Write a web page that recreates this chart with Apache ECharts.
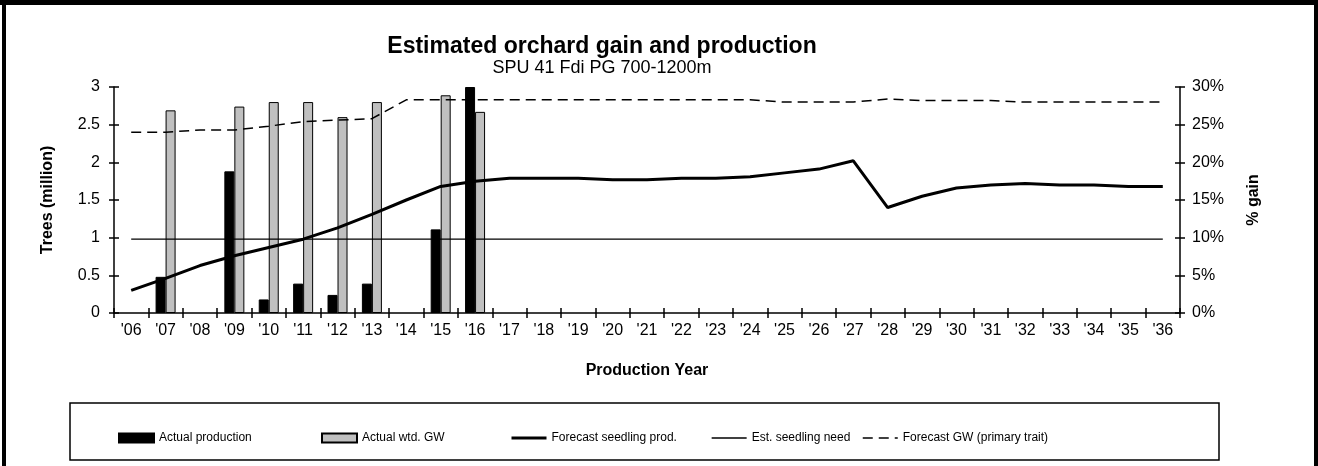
<!DOCTYPE html>
<html>
<head>
<meta charset="utf-8">
<script src="https://cdn.jsdelivr.net/npm/echarts@6/dist/echarts.min.js"></script>
<style>
  html, body { margin: 0; padding: 0; background: #fff; }
  #main { width: 1318px; height: 466px; }
</style>
</head>
<body>
<div id="main"></div>
<script>
// production years '06 .. '36
var years = ["'06","'07","'08","'09","'10","'11","'12","'13","'14","'15","'16",
             "'17","'18","'19","'20","'21","'22","'23","'24","'25","'26",
             "'27","'28","'29","'30","'31","'32","'33","'34","'35","'36"];

// trees (million)
var actualProduction = [null,0.48,null,1.88,0.18,0.39,0.24,0.39,null,1.11,3.0,
                        null,null,null,null,null,null,null,null,null,null,
                        null,null,null,null,null,null,null,null,null,null];
var forecastProd = [0.30,0.46,0.63,0.76,0.87,0.98,1.13,1.31,1.50,1.68,1.75,
                    1.79,1.79,1.79,1.77,1.77,1.79,1.79,1.81,1.86,1.91,
                    2.02,1.40,1.55,1.66,1.70,1.72,1.70,1.70,1.68,1.68];
var seedlingNeed = [0.98,0.98,0.98,0.98,0.98,0.98,0.98,0.98,0.98,0.98,0.98,
                    0.98,0.98,0.98,0.98,0.98,0.98,0.98,0.98,0.98,0.98,
                    0.98,0.98,0.98,0.98,0.98,0.98,0.98,0.98,0.98,0.98];

// % gain
var actualGW = [null,26.9,null,27.4,28.0,28.0,26.0,28.0,null,28.9,26.7,
                null,null,null,null,null,null,null,null,null,null,
                null,null,null,null,null,null,null,null,null,null];
var forecastGW = [24.0,24.0,24.3,24.3,24.8,25.4,25.6,25.8,28.3,28.3,28.3,
                  28.3,28.3,28.3,28.3,28.3,28.3,28.3,28.3,28.0,28.0,
                  28.0,28.4,28.2,28.2,28.2,28.0,28.0,28.0,28.0,28.0];

var FONT = 'Liberation Sans, Arial, sans-serif';

// one legend per entry so each sits where the original puts it
function legendAt(name, x, lineWidth) {
    var l = {
        left: x, top: 432, padding: 0, itemWidth: 35, itemHeight: 9, itemGap: 4,
        textStyle: {fontFamily: FONT, fontSize: 12, color: '#000'},
        data: [lineWidth ? name : {name: name, icon: 'rect'}]
    };
    if (lineWidth) {
        l.itemStyle = {opacity: 0};
        l.lineStyle = {width: lineWidth};
    }
    return l;
}

var chart = echarts.init(document.getElementById('main'));

var tickStyle = {color: '#000', width: 1.5};

var option = {
    animation: false,
    backgroundColor: '#fff',
    textStyle: {fontFamily: FONT, color: '#000'},
    title: {
        text: 'Estimated orchard gain and production',
        subtext: 'SPU 41 Fdi PG 700-1200m',
        left: 597, top: 30, textAlign: 'center', itemGap: 1,
        textStyle: {fontFamily: FONT, fontSize: 23, fontWeight: 'bold', color: '#000'},
        subtextStyle: {fontFamily: FONT, fontSize: 18, color: '#000'}
    },
    legend: [
        legendAt('Actual production', 118, 0),
        legendAt('Actual wtd. GW', 321, 0),
        legendAt('Forecast seedling prod.', 510, 3),
        legendAt('Est. seedling need', 711, 1.3),
        legendAt('Forecast GW (primary trait)', 862, 1.5)
    ],
    grid: {left: 114, right: 138, top: 87, bottom: 153},
    xAxis: [{
        type: 'category', data: years, boundaryGap: true,
        name: 'Production Year', nameLocation: 'middle', nameGap: 50,
        nameTextStyle: {fontFamily: FONT, fontSize: 16, fontWeight: 'bold', color: '#000'},
        axisLine: {lineStyle: tickStyle},
        axisTick: {show: true, length: 5, lineStyle: tickStyle},
        axisLabel: {fontFamily: FONT, fontSize: 16, color: '#000', margin: 10, interval: 0},
        splitLine: {show: false}
    }, {
        type: 'category', data: years, boundaryGap: true, position: 'bottom',
        axisLine: {show: false},
        axisTick: {show: true, inside: true, length: 5, lineStyle: tickStyle},
        axisLabel: {show: false}, splitLine: {show: false}
    }],
    yAxis: [{
        type: 'value', min: 0, max: 3, interval: 0.5, position: 'left',
        name: 'Trees (million)', nameLocation: 'middle', nameGap: 58, nameRotate: 90,
        nameTextStyle: {fontFamily: FONT, fontSize: 16, fontWeight: 'bold', color: '#000'},
        axisLine: {show: true, lineStyle: tickStyle},
        axisTick: {show: true, length: 5, lineStyle: tickStyle},
        axisLabel: {fontFamily: FONT, fontSize: 16, color: '#000', margin: 14},
        splitLine: {show: false}
    }, {
        type: 'value', min: 0, max: 30, interval: 5, position: 'right',
        name: '% gain', nameLocation: 'middle', nameGap: 66, nameRotate: 90,
        nameTextStyle: {fontFamily: FONT, fontSize: 16, fontWeight: 'bold', color: '#000'},
        axisLine: {show: true, lineStyle: tickStyle},
        axisTick: {show: true, length: 5, lineStyle: tickStyle},
        axisLabel: {fontFamily: FONT, fontSize: 16, color: '#000', margin: 12, formatter: '{value}%'},
        splitLine: {show: false}
    }, {
        type: 'value', min: 0, max: 3, interval: 0.5, position: 'left',
        axisLine: {show: false},
        axisTick: {show: true, inside: true, length: 5, lineStyle: tickStyle},
        axisLabel: {show: false}, splitLine: {show: false}
    }, {
        type: 'value', min: 0, max: 30, interval: 5, position: 'right',
        axisLine: {show: false},
        axisTick: {show: true, inside: true, length: 5, lineStyle: tickStyle},
        axisLabel: {show: false}, splitLine: {show: false}
    }],
    series: [{
        name: 'Actual production', type: 'bar', yAxisIndex: 0,
        data: actualProduction, barWidth: 10, barGap: '0%',
        itemStyle: {color: '#000', borderColor: '#000', borderWidth: 1}
    }, {
        name: 'Actual wtd. GW', type: 'bar', yAxisIndex: 1,
        data: actualGW, barWidth: 10, barGap: '0%',
        itemStyle: {color: '#c0c0c0', borderColor: '#000', borderWidth: 1}
    }, {
        name: 'Forecast seedling prod.', type: 'line', yAxisIndex: 0,
        data: forecastProd, symbol: 'none', z: 5,
        lineStyle: {color: '#000', width: 3}, itemStyle: {color: '#000'}
    }, {
        name: 'Est. seedling need', type: 'line', yAxisIndex: 0,
        data: seedlingNeed, symbol: 'none', z: 4,
        lineStyle: {color: '#000', width: 1.2}, itemStyle: {color: '#000'}
    }, {
        name: 'Forecast GW (primary trait)', type: 'line', yAxisIndex: 1,
        data: forecastGW, symbol: 'none', z: 4,
        lineStyle: {color: '#000', width: 1.5, type: [10, 6]}, itemStyle: {color: '#000'}
    }],
    graphic: [
        // outer frame (top, left, right)
        {type: 'rect', shape: {x: 0, y: 0, width: 1318, height: 5}, style: {fill: '#000'}},
        {type: 'rect', shape: {x: 2, y: 0, width: 4, height: 466}, style: {fill: '#000'}},
        {type: 'rect', shape: {x: 1314, y: 0, width: 4, height: 466}, style: {fill: '#000'}},
        // legend box
        {type: 'rect', z: -1, shape: {x: 70, y: 403, width: 1149, height: 57},
         style: {fill: 'none', stroke: '#000', lineWidth: 1.5}}
    ]
};

chart.setOption(option);
</script>
</body>
</html>
